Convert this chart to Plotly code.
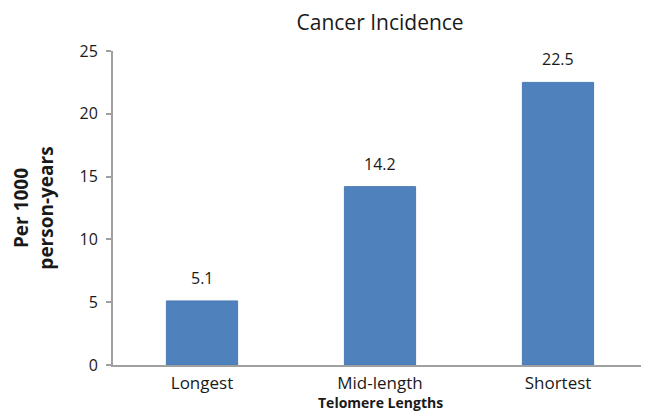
import plotly.graph_objects as go

categories = ["Longest", "Mid-length", "Shortest"]
values = [5.1, 14.2, 22.5]
labels = ["5.1", "14.2", "22.5"]
y_ticks = [0, 5, 10, 15, 20, 25]

FONT = "Open Sans, sans-serif"
TXT = "#1a1a1a"

fig = go.Figure(go.Bar(
    x=categories, y=values,
    marker=dict(color="#4F81BD", line=dict(color="#4A7AB5", width=1)),
    hoverinfo="x+y",
))

for c, v, t in zip(categories, values, labels):
    fig.add_annotation(x=c, y=v, text=t, showarrow=False, yanchor="bottom",
                       yshift=10, font=dict(size=16, color=TXT, family=FONT))

fig.add_annotation(x=0.5, xref="paper", y=-0.121, yref="paper", yanchor="middle",
                   text="<b>Telomere Lengths</b>", showarrow=False,
                   font=dict(size=14, color=TXT, family=FONT))

fig.update_layout(
    width=641, height=407,
    margin=dict(l=105, r=2, t=43, b=50),
    paper_bgcolor="white", plot_bgcolor="white",
    bargap=0.6,
    showlegend=False,
    font=dict(family=FONT, color=TXT),
    title=dict(text="Cancer Incidence", x=0.5805, xanchor="center", y=0.963, yanchor="middle",
               font=dict(size=21, color=TXT, family=FONT)),
)

fig.update_yaxes(
    range=[0, 25], tickvals=y_ticks, showgrid=False, zeroline=False,
    showline=True, linecolor="#A0A0A0", linewidth=2,
    ticks="outside", ticklen=5, tickcolor="#A0A0A0", tickwidth=1.5,
    ticklabelstandoff=5,
    tickfont=dict(size=16, color=TXT),
    title=dict(text="<b>Per 1000<br>person-years</b>", font=dict(size=19, color=TXT), standoff=22),
)
fig.update_xaxes(
    showgrid=False, showline=True, linecolor="#A0A0A0", linewidth=2,
    ticks="", tickfont=dict(size=17, color=TXT), ticklabelstandoff=2,
)

fig.write_html("out.html")
